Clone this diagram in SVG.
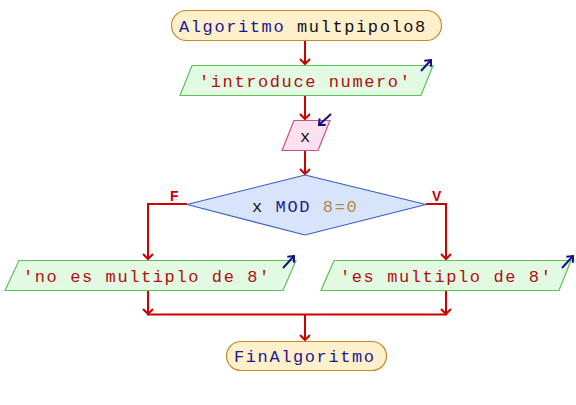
<svg xmlns="http://www.w3.org/2000/svg" width="576" height="405" viewBox="0 0 576 405">
<defs>
<style>
.t{font-family:"Liberation Mono","Courier New",monospace;font-size:17px;letter-spacing:1.6px}
.term{fill:#fff0cc;stroke:#c8892c;stroke-width:1.2}
.io{fill:#e2f9e2;stroke:#5cc05c;stroke-width:1.2}
.in{fill:#fce0ee;stroke:#c8508c;stroke-width:1.2}
.dec{fill:#d8e4fa;stroke:#3a5cc8;stroke-width:1.2}
.kw{fill:#1a1a90}
.str{fill:#b01010}
.num{fill:#b0894a}
.blk{fill:#111}
.con{fill:none;stroke:#cc0000;stroke-width:2}
.lbl{font-family:"Liberation Sans",Arial,sans-serif;font-size:14px;font-weight:bold;fill:#cc0000}
.ba{stroke:#10108c;stroke-width:2;fill:none}
</style>
<marker id="ah" markerUnits="userSpaceOnUse" markerWidth="14" markerHeight="14" refX="8" refY="7" orient="auto" viewBox="0 0 14 14">
<path d="M3,2 L8,7 L3,12" fill="none" stroke="#cc0000" stroke-width="2"/>
</marker>
<marker id="bh" markerUnits="userSpaceOnUse" markerWidth="12" markerHeight="12" refX="7" refY="6" orient="auto" viewBox="0 0 12 12">
<path d="M2,1.5 L7,6 L2,10.5" fill="none" stroke="#10108c" stroke-width="2"/>
</marker>
</defs>

<g id="connectors">
<line class="con" x1="305" y1="41" x2="305" y2="64" marker-end="url(#ah)"/>
<line class="con" x1="305" y1="95" x2="305" y2="119" marker-end="url(#ah)"/>
<line class="con" x1="305" y1="150" x2="305" y2="174" marker-end="url(#ah)"/>
<polyline class="con" points="187,204 148,204 148,259" marker-end="url(#ah)"/>
<polyline class="con" points="426,204 446,204 446,259" marker-end="url(#ah)"/>
<line class="con" x1="148" y1="290" x2="148" y2="314" marker-end="url(#ah)"/>
<line class="con" x1="446" y1="290" x2="446" y2="314" marker-end="url(#ah)"/>
<line class="con" x1="147" y1="314.5" x2="447" y2="314.5"/>
<line class="con" x1="305" y1="314" x2="305" y2="340" marker-end="url(#ah)"/>
<text class="lbl" x="170" y="201">F</text>
<text class="lbl" x="432" y="201">V</text>
</g>

<g id="start">
<rect class="term" x="171.5" y="10.5" width="270" height="30" rx="15" ry="15"/>
<text class="t" x="179" y="32"><tspan class="kw">Algoritmo</tspan><tspan class="blk"> multpipolo8</tspan></text>
</g>

<g id="out1">
<polygon class="io" points="192,65.5 433,65.5 421,95.5 180,95.5"/>
<text class="t str" x="199" y="87">'introduce numero'</text>
<line class="ba" x1="421" y1="71" x2="431" y2="60" marker-end="url(#bh)"/>
</g>

<g id="read">
<polygon class="in" points="294,120.5 330,120.5 318,150.5 282,150.5"/>
<text class="t blk" x="300" y="142">x</text>
<line class="ba" x1="331" y1="114" x2="319" y2="125" marker-end="url(#bh)"/>
</g>

<g id="decision">
<polygon class="dec" points="305,175 426,204.5 305,235 187,204.5"/>
<text class="t" x="252" y="212"><tspan class="blk">x</tspan><tspan class="kw"> MOD</tspan><tspan class="num"> 8=0</tspan></text>
</g>

<g id="outNo">
<polygon class="io" points="19,260.5 296,260.5 283,290.5 5,290.5"/>
<text class="t str" x="23" y="282">'no es multiplo de 8'</text>
<line class="ba" x1="283" y1="268" x2="294" y2="256" marker-end="url(#bh)"/>
</g>

<g id="outYes">
<polygon class="io" points="334,260.5 571,260.5 559,290.5 321,290.5"/>
<text class="t str" x="340" y="282">'es multiplo de 8'</text>
<line class="ba" x1="562" y1="268" x2="573" y2="256" marker-end="url(#bh)"/>
</g>

<g id="end">
<rect class="term" x="226.5" y="341.5" width="160" height="29" rx="14.5" ry="14.5"/>
<text class="t kw" x="234" y="362">FinAlgoritmo</text>
</g>
</svg>
